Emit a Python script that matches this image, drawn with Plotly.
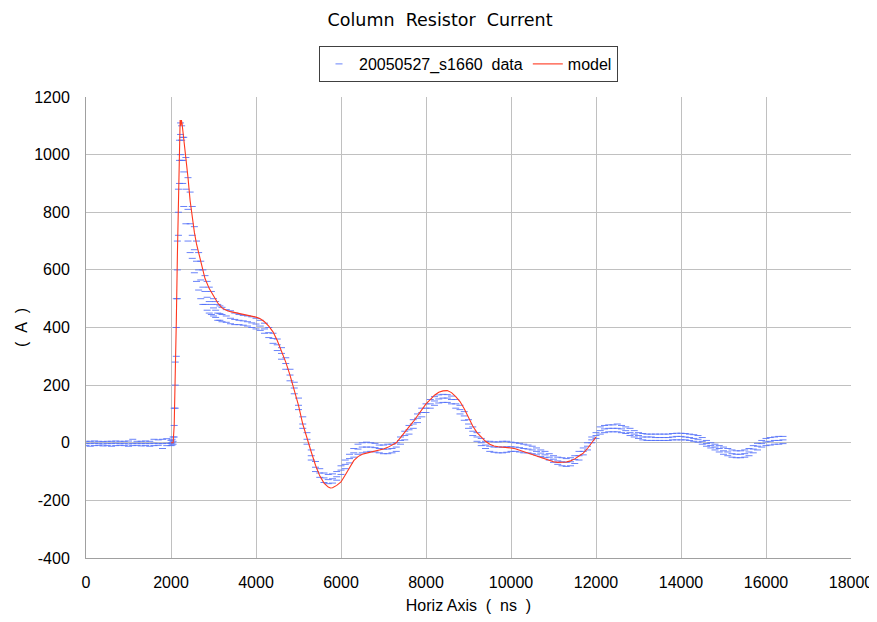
import plotly.graph_objects as go

# ---------------- data (blue, quantized scope record) ----------------
# sample times (ns): coarse on the baseline, fine around the fast rise/peak
t_base = list(range(0, 2000, 100))
lo_base = [-10, -12, -10, -9, -11, -10, -12, -10, -9, -10, -12, -10, -9, -11, -10, -12, -10, -9, -20, -10]
mid_base = [-3, -3, -2, -3, -4, -3, -3, -2, -3, -3, -4, -3, -2, -3, -3, -3, -2, -3, -3, -2]
hi_base = [5, 5, 6, 5, 4, 5, 5, 6, 5, 5, 6, 12, 5, 5, 6, 5, 12, 10, 12, 14]

t_rise = list(range(2000, 2300, 25))
lo_rise = [-10, -8, -5, 20, 120, 300, 500, 720, 900, 1000, 980, 900]
mid_rise = [-2, 0, 5, 60, 200, 400, 600, 800, 980, 1070, 1050, 980]
hi_rise = [8, 12, 20, 120, 280, 500, 700, 880, 1050, 1110, 1100, 1060]

t_fall = list(range(2300, 3200, 50))
lo_fall = [820, 760, 700, 660, 640, 590, 560, 530, 500, 480, 480, 460, 450, 445, 440, 435, 425, 425]
mid_fall = [940, 880, 810, 760, 720, 670, 630, 600, 565, 540, 525, 505, 490, 480, 468, 460, 450, 448]
hi_fall = [1060, 990, 920, 870, 820, 750, 700, 660, 630, 600, 580, 560, 540, 525, 500, 490, 480, 475]

t_tail = list(range(3200, 16500, 100))
lo_tail = [420, 418, 413, 410, 410, 408, 405, 400, 395, 390,   # 3200-4100
           380, 365, 345, 320, 290, 255, 215, 170, 115, 50,    # 4200-5100
           -5, -60, -100, -120, -138, -142, -140, -130, -110, -90,  # 5200-6100
           -70, -50, -40, -35, -32, -30, -32, -35, -38, -38,   # 6200-7100
           -35, -30, -5, 10, 30, 50, 70, 90, 105, 120,        # 7200-8100
           130, 138, 140, 140, 135, 120, 100, 78, 50, 25,     # 8200-9100
           5, -10, -20, -30, -33, -35, -35, -33, -30, -30,    # 9200-10100
           -32, -35, -35, -38, -42, -48, -52, -60, -68, -75,  # 10200-11100
           -80, -82, -80, -72, -60, -42, -25, 0, 15, 30,      # 11200-12100
           35, 38, 38, 38, 35, 32, 25, 20, 15, 10,            # 12200-13100
           8, 8, 8, 8, 8, 8, 10, 10, 10, 10,                  # 13200-14100
           8, 5, 2, -5, -12, -18, -25, -32, -40, -45,         # 14200-15100
           -50, -52, -52, -50, -45, -35, -25, -15, -10, -8,   # 15200-16100
           -5, -5, -3]                                        # 16200-16400
mid_tail = [445, 440, 432, 428, 425, 423, 420, 416, 412, 405,
            395, 382, 362, 340, 310, 275, 235, 190, 130, 65,
            12, -45, -85, -105, -122, -128, -125, -118, -95, -75,
            -55, -35, -22, -15, -15, -15, -17, -20, -22, -22,
            -20, -15, 8, 25, 45, 65, 85, 105, 120, 135,
            145, 152, 155, 155, 150, 135, 115, 93, 65, 40,
            20, 0, -8, -12, -15, -15, -15, -14, -14, -15,
            -17, -20, -22, -25, -30, -36, -42, -50, -57, -63,
            -66, -68, -66, -58, -45, -30, -12, 10, 25, 42,
            48, 50, 50, 50, 48, 42, 35, 30, 25, 20,
            20, 20, 18, 18, 18, 18, 20, 22, 22, 20,
            18, 15, 12, 5, -3, -10, -15, -20, -28, -32,
            -38, -40, -40, -38, -32, -22, -12, -3, 3, 5,
            8, 8, 10]
hi_tail = [470, 462, 458, 450, 445, 442, 440, 437, 432, 425,
           415, 400, 380, 360, 330, 295, 255, 210, 155, 90,
           35, -25, -65, -90, -105, -110, -108, -100, -80, -60,
           -40, -20, -5, 0, 2, 0, -2, -8, -8, -5,
           -5, 0, 20, 40, 60, 80, 100, 120, 135, 150,
           160, 166, 168, 167, 162, 150, 130, 108, 80, 55,
           35, 15, 5, 5, 3, 3, 5, 5, 2, 0,
           -2, -5, -8, -12, -18, -25, -30, -38, -45, -50,
           -52, -55, -52, -45, -30, -18, 0, 20, 35, 55,
           60, 62, 62, 65, 60, 55, 50, 42, 35, 32,
           30, 30, 30, 30, 30, 30, 32, 33, 33, 32,
           30, 28, 25, 18, 8, 0, -5, -10, -15, -20,
           -25, -28, -28, -25, -20, -10, -2, 8, 15, 18,
           20, 22, 22]

data_t = t_base + t_rise + t_fall + t_tail
data_lo = lo_base + lo_rise + lo_fall + lo_tail
data_mid = mid_base + mid_rise + mid_fall + mid_tail
data_hi = hi_base + hi_rise + hi_fall + hi_tail
assert len(data_t) == len(data_lo) == len(data_mid) == len(data_hi)

# ---------------- model (red) ----------------
model_t = [2000, 2050, 2075, 2100, 2125, 2150, 2175, 2200, 2215, 2230, 2245, 2260, 2280, 2300,
           2320, 2350, 2400, 2450, 2500, 2550, 2600, 2650, 2700, 2750, 2800, 2900, 3000,
           3100, 3200, 3300, 3400, 3500, 3600, 3700, 3800, 3900, 4000, 4100, 4200, 4300,
           4400, 4500, 4600, 4700, 4800, 4900, 5000, 5100, 5200, 5300, 5400, 5500, 5600,
           5700, 5750, 5800, 5900, 6000, 6100, 6200, 6300, 6400, 6500, 6600, 6700, 6800,
           6900, 7000, 7100, 7200, 7300, 7400, 7500, 7600, 7700, 7800, 7900, 8000, 8100,
           8200, 8300, 8400, 8500, 8600, 8700, 8800, 8900, 9000, 9100, 9200, 9300, 9400,
           9500, 9600, 9700, 9800, 9900, 10000, 10100, 10200, 10300, 10400, 10500, 10600,
           10700, 10800, 10900, 11000, 11100, 11200, 11300, 11400, 11500, 11600, 11700,
           11800, 11900, 12000]
model_y = [0, 0, 60, 200, 420, 650, 880, 1060, 1120, 1100, 1120, 1108, 1080, 1075,
           1040, 990, 920, 840, 780, 730, 690, 660, 625, 595, 570, 535, 510,
           485, 468, 460, 455, 452, 450, 446, 442, 440, 436, 430, 420, 405,
           385, 355, 318, 280, 235, 185, 130, 65, 12, -32, -78, -115, -140,
           -154, -157, -156, -148, -136, -112, -85, -62, -48, -40, -36, -33, -30,
           -27, -22, -16, -8, 0, 18, 35, 55, 73, 93, 115, 135, 150,
           165, 175, 180, 181, 174, 160, 143, 118, 87, 58, 35, 18, 5,
           -5, -11, -14, -15, -16, -18, -21, -26, -31, -37, -42, -47,
           -52, -57, -62, -66, -68, -68, -67, -63, -56, -46, -36,
           -20, -2, 20]
assert len(model_t) == len(model_y)

x_ticks = list(range(0, 18001, 2000))
y_ticks = list(range(-400, 1201, 200))

FONT = "Liberation Sans, Arial, sans-serif"
BLUE = "rgb(80,110,250)"
RED = "rgb(255,55,30)"
NB = "\u00a0"

# the page body adds an 8 px offset on every side; size the figure to fit the window
W, H = 869, 606

fig = go.Figure()

data_marker = dict(symbol="line-ew", size=5, color=BLUE, opacity=0.85,
                   line=dict(color=BLUE, width=1))
fig.add_trace(go.Scatter(x=data_t, y=data_mid, mode="markers",
                         name=f"20050527_s1660{NB}{NB}data",
                         marker=data_marker, legendgroup="d"))
fig.add_trace(go.Scatter(x=data_t, y=data_lo, mode="markers", showlegend=False,
                         marker=data_marker, legendgroup="d"))
fig.add_trace(go.Scatter(x=data_t, y=data_hi, mode="markers", showlegend=False,
                         marker=data_marker, legendgroup="d"))
fig.add_trace(go.Scatter(x=model_t, y=model_y, mode="lines", name="model",
                         line=dict(color=RED, width=1.1)))

fig.update_layout(
    width=W, height=H,
    margin=dict(l=78, r=26, t=89, b=56, autoexpand=False),
    paper_bgcolor="white", plot_bgcolor="white",
    font=dict(family=FONT, size=16, color="black"),
    title=dict(text=f"Column{NB}{NB}Resistor{NB}{NB}Current", x=(440 - 8) / W, xanchor="center",
               y=1 - 12 / H, yanchor="middle", yref="container",
               font=dict(family="DejaVu Sans, sans-serif", size=17.5, color="black")),
    legend=dict(orientation="h", x=0.5, xanchor="center", xref="paper",
                y=1 - 56 / H, yanchor="middle", yref="container",
                bordercolor="#404040", borderwidth=1, bgcolor="white",
                font=dict(family=FONT, size=16), tracegroupgap=0),
    showlegend=True,
)
fig.update_xaxes(range=[0, 18000], tickvals=x_ticks, ticktext=[str(v) for v in x_ticks],
                 showgrid=True, gridcolor="#c0c0c0", gridwidth=1, zeroline=False,
                 showline=True, linecolor="#a0a0a0", linewidth=1, automargin=False,
                 ticks="", tickfont=dict(size=16), ticklabelstandoff=10,
                 ticklabeloverflow="allow",
                 title=dict(text=f"Horiz Axis{NB}{NB}({NB}{NB}ns{NB}{NB})",
                            font=dict(size=16), standoff=13))
fig.update_yaxes(range=[-400, 1200], tickvals=y_ticks, ticktext=[str(v) for v in y_ticks],
                 showgrid=True, gridcolor="#c0c0c0", gridwidth=1, zeroline=True,
                 zerolinecolor="#c0c0c0", zerolinewidth=1,
                 showline=True, linecolor="#a0a0a0", linewidth=1, automargin=False,
                 ticks="", tickfont=dict(size=16), ticklabelstandoff=12,
                 title=dict(text=f"({NB}{NB}A{NB}{NB})", font=dict(size=16), standoff=2))

fig.write_html("out.html")
